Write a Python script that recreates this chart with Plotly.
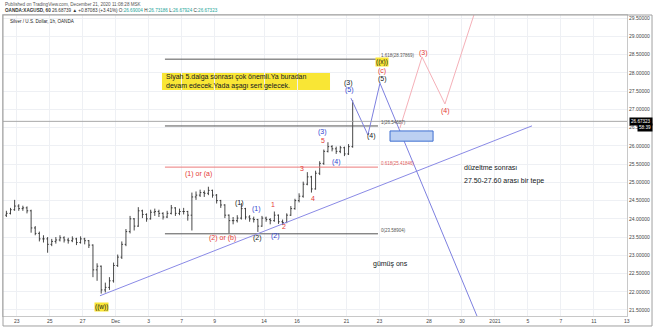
import plotly.graph_objects as go

# ---------------- data (x = trading-day index, 0 = Nov 23) ----------------
bar_start = -0.75          # first 6h bar
bar_step = 0.25            # 6h bars
first_open = 24.10
close = [24.15, 24.25, 24.35, 24.28, 24.30, 24.22, 23.75, 23.60, 23.45, 23.45,
         23.30, 23.38, 23.42, 23.48, 23.42, 23.40, 23.45, 23.35, 23.45, 23.40,
         23.28, 22.60, 22.70, 22.05, 22.12, 22.30, 22.72, 22.95, 23.30, 23.65,
         24.00, 23.80, 24.22, 24.12, 24.00, 24.18, 24.20, 24.15, 24.05, 24.15,
         24.30, 24.15, 24.20, 24.20, 24.10, 24.60, 24.65, 24.72, 24.70, 24.78,
         24.65, 24.50, 24.38, 24.10, 23.95, 23.95, 24.02, 24.28, 24.05, 24.00,
         23.98, 23.80, 24.02, 23.98, 23.95, 24.10, 23.92, 23.90, 24.10, 24.28,
         24.50, 24.62, 24.95, 25.15, 24.82, 25.25, 25.52, 25.85, 25.98, 25.92,
         25.85, 25.95, 25.78, 25.98, 26.67]
high = [24.22, 24.30, 24.52, 24.40, 24.36, 24.34, 24.25, 23.80, 23.65, 23.55,
        23.50, 23.45, 23.50, 23.55, 23.52, 23.48, 23.52, 23.48, 23.52, 23.48,
        23.42, 23.30, 22.78, 22.72, 22.25, 22.40, 22.80, 23.02, 23.38, 23.72,
        24.08, 24.02, 24.32, 24.25, 24.15, 24.25, 24.28, 24.25, 24.18, 24.22,
        24.38, 24.32, 24.28, 24.30, 24.22, 24.72, 24.75, 24.80, 24.78, 24.88,
        24.80, 24.68, 24.52, 24.40, 24.12, 24.05, 24.10, 24.43, 24.30, 24.10,
        24.06, 24.00, 24.08, 24.06, 24.02, 24.20, 24.12, 23.98, 24.15, 24.35,
        24.55, 24.70, 25.02, 25.28, 25.18, 25.32, 25.58, 25.90, 26.10, 26.02,
        25.98, 26.00, 25.98, 26.05, 27.25]
low = [24.05, 24.12, 24.22, 24.22, 24.22, 24.15, 23.62, 23.55, 23.38, 23.35,
       23.07, 23.25, 23.32, 23.38, 23.35, 23.32, 23.36, 23.28, 23.32, 23.30,
       23.20, 22.40, 22.30, 21.95, 21.98, 22.05, 22.25, 22.68, 22.90, 23.25,
       23.60, 23.68, 23.78, 24.02, 23.92, 23.98, 24.08, 24.05, 23.98, 24.02,
       24.12, 24.08, 24.10, 24.12, 23.95, 23.68, 24.52, 24.60, 24.60, 24.65,
       24.58, 24.42, 24.30, 24.02, 23.60, 23.85, 23.90, 23.98, 23.98, 23.92,
       23.90, 23.64, 23.78, 23.92, 23.85, 23.92, 23.86, 23.84, 23.88, 24.08,
       24.25, 24.45, 24.58, 24.92, 24.72, 24.80, 25.20, 25.48, 25.82, 25.85,
       25.78, 25.80, 25.72, 25.75, 25.95]

tick_idx = [0, 2, 4, 6, 8, 10, 12, 15, 17, 20, 22, 25, 27, 29, 31, 33, 35, 37]
tick_text = ['23', '25', '27', 'Dec', '3', '7', '9', '14', '16', '21', '23', '28',
             '30', '2021', '5', '7', '11', '13']

last_price = 26.67323
fib_levels = [28.37869, 26.54687, 25.41846, 23.58904]
fib_labels = ['1.618(28.37869)', '1(26.54687)', '0.618(25.41846)', '0(23.58904)']
fib_x = [8.99, 21.91]

trend_x = [5.05, 31.25]
trend_y = [21.89, 26.55]
wave_blue_x = [20.27, 21.30, 22.03, 28.22]
wave_blue_y = [27.31, 26.30, 27.72, 21.00]
wave_pink_x = [23.24, 24.58, 25.97, 28.02]
wave_pink_y = [26.49, 28.44, 27.15, 30.00]
box_x = [22.64, 25.25]
box_y = [26.13, 26.41]
note_box_x = [8.81, 19.00]
note_box_y = [27.53, 28.00]

# wave labels: (x, y, text, colour-key)
wave_labels = [
    (22.15, 28.05, '(c)', 'r'), (22.21, 27.84, '(5)', 'k'),
    (20.15, 27.73, '(3)', 'k'), (20.21, 27.53, '(5)', 'b'),
    (21.49, 26.27, '(4)', 'k'), (24.64, 28.55, '(3)', 'r'),
    (26.03, 26.96, '(4)', 'r'), (18.57, 26.38, '(3)', 'b'),
    (18.57, 26.16, '5', 'r'), (19.42, 25.56, '(4)', 'b'),
    (17.30, 25.39, '3', 'r'), (17.97, 24.57, '4', 'r'),
    (15.54, 24.38, '1', 'r'), (16.21, 23.78, '2', 'r'),
    (13.54, 24.43, '(1)', 'k'), (14.63, 23.47, '(2)', 'k'),
    (14.57, 24.27, '(1)', 'b'), (15.72, 23.53, '(2)', 'b'),
    (11.00, 25.23, '(1) or (a)', 'r'), (12.51, 23.47, '(2) or (b)', 'r'),
]
yellow_labels = [(22.15, 28.30, '((x))'), (5.17, 21.58, '((w))')]

# ---------------- figure ----------------
FONT = 'Liberation Sans'
COL = {'r': '#e53935', 'b': '#2f45d0', 'k': '#131722'}
GRID = '#eef0f4'

bar_x = [bar_start + bar_step * (i + 0.5) for i in range(len(close))]
opens = [first_open] + close[:-1]

fig = go.Figure()
fig.add_trace(go.Ohlc(x=bar_x, open=opens, high=high, low=low, close=close,
                      increasing_line_color='#1a1a1a', decreasing_line_color='#1a1a1a',
                      line_width=0.8, tickwidth=0.3, hoverinfo='skip', showlegend=False))

# fib horizontal lines
for lvl, lab in zip(fib_levels, fib_labels):
    c = '#ec7b7b' if lab.startswith('0.618') else '#555555'
    fig.add_trace(go.Scatter(x=fib_x, y=[lvl, lvl], mode='lines',
                             line=dict(color=c, width=1), hoverinfo='skip', showlegend=False))
    fig.add_annotation(x=fib_x[1], y=lvl, text=lab, showarrow=False, xanchor='left',
                       yanchor='bottom', xshift=1, yshift=-1,
                       font=dict(family=FONT, size=4.5, color=('#e06060' if c != '#555555' else '#555555')))

fig.add_trace(go.Scatter(x=trend_x, y=trend_y, mode='lines',
                         line=dict(color='#8a8ae6', width=1), hoverinfo='skip', showlegend=False))
fig.add_trace(go.Scatter(x=wave_blue_x, y=wave_blue_y, mode='lines',
                         line=dict(color='#7d80e0', width=1), hoverinfo='skip', showlegend=False))
fig.add_trace(go.Scatter(x=wave_pink_x, y=wave_pink_y, mode='lines',
                         line=dict(color='#f5b0b8', width=1), hoverinfo='skip', showlegend=False))

# blue box
fig.add_shape(type='rect', x0=box_x[0], x1=box_x[1], y0=box_y[0], y1=box_y[1],
              xref='x', yref='y', fillcolor='#bcd0f2', line=dict(color='#3f6fd0', width=1))

# yellow note box
fig.add_shape(type='rect', x0=note_box_x[0], x1=note_box_x[1], y0=note_box_y[0], y1=note_box_y[1],
              xref='x', yref='y', fillcolor='#f9e635', line=dict(width=0), layer='below')
fig.add_annotation(x=note_box_x[0], y=(note_box_y[0] + note_box_y[1]) / 2,
                   text='Siyah 5.dalga sonrası çok önemli.Ya buradan<br>devam edecek.Yada aşagı sert gelecek.',
                   showarrow=False, xanchor='left', yanchor='middle', align='left', xshift=2,
                   font=dict(family=FONT, size=7, color='#131722'))

# current price line
fig.add_shape(type='line', xref='paper', x0=0, x1=1, yref='y', y0=last_price, y1=last_price,
              line=dict(color='#a8a8a8', width=1))

for x, y, t, c in wave_labels:
    fig.add_annotation(x=x, y=y, text=t, showarrow=False,
                       font=dict(family=FONT, size=7, color=COL[c]))
for x, y, t in yellow_labels:
    fig.add_annotation(x=x, y=y, text=t, showarrow=False, bgcolor='#f9e635', borderpad=0,
                       font=dict(family=FONT, size=6.5, color='#131722'))

fig.add_annotation(x=27.0, y=25.42, text='düzeltme sonrası', showarrow=False, xanchor='left',
                   font=dict(family=FONT, size=7, color='#131722'))
fig.add_annotation(x=27.0, y=25.04, text='27.50-27.60 arası bir tepe', showarrow=False, xanchor='left',
                   font=dict(family=FONT, size=7, color='#131722'))
fig.add_annotation(x=21.49, y=22.75, text='gümüş ons', showarrow=False, xanchor='left',
                   font=dict(family=FONT, size=7, color='#131722'))

# header
fig.add_annotation(xref='paper', yref='paper', x=0, y=1.0365, xanchor='left', yanchor='middle',
                   text='Published on TradingView.com, December 21, 2020 11:08:28 MSK', showarrow=False,
                   font=dict(family=FONT, size=4.6, color='#555555'))
g = '#26a69a'
fig.add_annotation(xref='paper', yref='paper', x=0, y=1.0133, xanchor='left', yanchor='middle',
                   text=('<b>OANDA:XAGUSD, 60</b> 26.68739 ▲ +0.87083 (+3.41%) '
                         f'O:<span style="color:{g}">26.69004</span> H:<span style="color:{g}">26.73186</span> '
                         f'L:<span style="color:{g}">26.67924</span> C:<span style="color:{g}">26.67323</span>'),
                   showarrow=False, font=dict(family=FONT, size=4.6, color='#333333'))
fig.add_annotation(xref='paper', yref='paper', x=0.008, y=0.977, xanchor='left', yanchor='middle',
                   text='Silver / U.S. Dollar, 1h, OANDA', showarrow=False,
                   font=dict(family=FONT, size=4.6, color='#222222'))

# price tags
fig.add_annotation(xref='paper', yref='y', x=1.0035, y=last_price, xanchor='left', yanchor='middle',
                   text='26.67323', showarrow=False, bgcolor='#000000', borderpad=1,
                   font=dict(family=FONT, size=4.6, color='#ffffff'))
fig.add_annotation(xref='paper', yref='y', x=1.0165, y=last_price - 0.165, xanchor='left', yanchor='middle',
                   text='58:39', showarrow=False, bgcolor='#000000', borderpad=1,
                   font=dict(family=FONT, size=4.6, color='#ffffff'))

# outer frame
fig.add_shape(type='rect', xref='paper', yref='paper', x0=0, x1=1.0401, y0=-0.0332, y1=1.0,
              line=dict(color='#a0a0a0', width=1), fillcolor='rgba(0,0,0,0)')

fig.update_layout(
    width=654, height=328, autosize=False,
    margin=dict(l=3, r=27, t=15, b=12),
    paper_bgcolor='white', plot_bgcolor='white',
    showlegend=False, hovermode=False,
    xaxis=dict(range=[-0.83, 37.01], tickmode='array', tickvals=tick_idx, ticktext=tick_text,
               showgrid=True, gridcolor=GRID, gridwidth=1, zeroline=False,
               showline=True, linecolor='#c8c8c8', linewidth=1, mirror=True,
               ticks='', tickfont=dict(family=FONT, size=5, color='#444444'),
               rangeslider=dict(visible=False), fixedrange=True),
    yaxis=dict(range=[21.335, 29.59], side='right', dtick=0.5, tick0=21.5, tickformat='.5f',
               showgrid=True, gridcolor=GRID, gridwidth=1, zeroline=False,
               showline=True, linecolor='#c8c8c8', linewidth=1, mirror=True,
               ticks='', tickfont=dict(family=FONT, size=5, color='#444444'), fixedrange=True),
)

fig.write_html('out.html')
